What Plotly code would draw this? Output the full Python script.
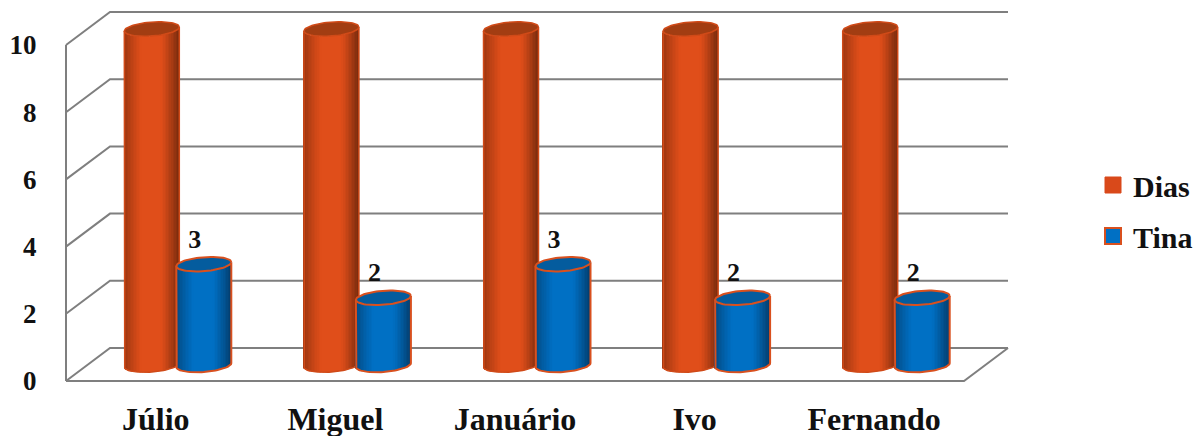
import numpy as np
import plotly.graph_objects as go

categories = ["Júlio", "Miguel", "Januário", "Ivo", "Fernando"]
dias = [10, 10, 10, 10, 10]
tina = [3, 2, 3, 2, 2]
y_ticks = [0, 2, 4, 6, 8, 10]

W, H = 1195, 436
PX_X = (964 - 66) / 5      # px per category
PX_Y = (381 - 45) / 10     # px per value unit
X0, Y0 = 66, 381           # px of data origin
FONT = "Liberation Serif"

xr = [-X0 / PX_X, (W - X0) / PX_X]
yr = [-(H - Y0) / PX_Y, Y0 / PX_Y]

DX_W, DY_W = 44 / PX_X, 33 / PX_Y        # wall depth
DX_C, DY_C = 22 / PX_X, 16 / PX_Y        # cylinder depth
RX, RY, TILT = 27.5 / PX_X, 7 / PX_Y, 2 / PX_Y
OFF = 26 / PX_X
N = 36


def mix(a, b, t):
    return tuple(a[i] + (b[i] - a[i]) * t for i in range(3))


def shade(u, left, mid, right):
    t = (u + 1) / 2
    if t < 0.32:
        c = mix(left, mid, (t / 0.32) ** 0.8)
    elif t < 0.68:
        c = mid
    else:
        c = mix(mid, right, ((t - 0.68) / 0.32) ** 1.2)
    return "rgb(%d,%d,%d)" % c


def cylinder(vals, side, left, mid, right, top, edge, xa, ya, lw):
    cx = [i + 0.5 + DX_C + side * OFF for i in range(len(vals))]
    edges = np.linspace(-1, 1, N + 1)
    us = (edges[:-1] + edges[1:]) / 2
    bx, by, bb, bc = [], [], [], []
    for c, v in zip(cx, vals):
        for u in us:
            bx.append(c + u * RX)
            by.append(v)
            bb.append(DY_C - RY * np.sqrt(1 - u * u) + TILT * u)
            bc.append(shade(u, left, mid, right))
    traces = [go.Bar(x=bx, y=by, base=bb, width=2.4 * RX / N, xaxis=xa, yaxis=ya,
                     marker=dict(color=bc, line=dict(width=0)), showlegend=False, hoverinfo="skip")]
    th = np.linspace(0, 2 * np.pi, 73)
    ex, ey, ox, oy = [], [], [], []
    low = np.linspace(np.pi, 2 * np.pi, 37)
    for c, v in zip(cx, vals):
        ex += list(c + RX * np.cos(th)) + [None]
        ey += list(v + DY_C + RY * np.sin(th) + TILT * np.cos(th)) + [None]
        ox += [c - RX] + list(c + RX * np.cos(low)) + [c + RX, None]
        oy += [v + DY_C - TILT] + list(DY_C + RY * np.sin(low) + TILT * np.cos(low)) + [v + DY_C + TILT, None]
    traces.append(go.Scatter(x=ox, y=oy, mode="lines", line=dict(color=edge, width=lw), xaxis=xa, yaxis=ya,
                             showlegend=False, hoverinfo="skip"))
    traces.append(go.Scatter(x=ex, y=ey, mode="lines", fill="toself", fillcolor=top,
                             line=dict(color=edge, width=lw), xaxis=xa, yaxis=ya,
                             showlegend=False, hoverinfo="skip"))
    return traces, cx


fig = go.Figure()

# walls and floor
gx, gy = [], []
for v in y_ticks:
    gx += [0, DX_W, 5 + DX_W, None]
    gy += [v, v + DY_W, v + DY_W, None]
gx += [0, 0, None, 0, 5, 5 + DX_W, None]
gy += [0, 10, None, 0, 0, DY_W, None]
fig.add_trace(go.Scatter(x=gx, y=gy, mode="lines", line=dict(color="#7f7f7f", width=2),
                         showlegend=False, hoverinfo="skip"))

tr, _ = cylinder(dias, -1, (150, 52, 16), (224, 78, 26), (122, 44, 14), "#A23D12", "#D04A18", "x2", "y2", 1.5)
fig.add_traces(tr)
tr, tina_x = cylinder(tina, 1, (4, 70, 124), (0, 112, 196), (4, 62, 110), "#045C9E", "#D9501E", "x3", "y3", 2)
fig.add_traces(tr)

fig.add_trace(go.Scatter(x=[c - 9 / PX_X for c in tina_x], y=[v + DY_C + 23 / PX_Y for v in tina],
                         mode="text", text=[str(v) for v in tina], textposition="middle center",
                         textfont=dict(family=FONT, size=26, color="#111111", weight="bold"),
                         xaxis="x3", yaxis="y3", showlegend=False, hoverinfo="skip"))

# legend entries
fig.add_trace(go.Scatter(x=[None], y=[None], mode="markers", name="Dias", legendgroup="a",
                         marker=dict(symbol="square", size=17, color="#D9491A", line=dict(color="#D9491A", width=1))))
fig.add_trace(go.Scatter(x=[None], y=[None], mode="markers", name="Tina", legendgroup="b",
                         marker=dict(symbol="square", size=16, color="#0070C4", line=dict(color="#D9501E", width=2))))

hidden = dict(range=xr, domain=[0, 1], visible=False, fixedrange=True, automargin=False)
hiddeny = dict(range=yr, domain=[0, 1], visible=False, fixedrange=True, automargin=False)
fig.update_layout(
    width=W, height=H, margin=dict(l=0, r=0, t=0, b=0, autoexpand=False), autosize=False,
    paper_bgcolor="white", plot_bgcolor="white", barmode="overlay",
    font=dict(family=FONT, color="#111111"),
    xaxis=dict(range=xr, domain=[0, 1], anchor="free", position=(H - Y0) / H, automargin=False,
               tickvals=[i + 0.5 for i in range(5)], ticktext=categories,
               ticks="outside", ticklen=10, tickcolor="rgba(0,0,0,0)", showgrid=False, zeroline=False,
               showline=False, tickfont=dict(family=FONT, size=32, weight="bold", color="#111111"),
               tickangle=0),
    yaxis=dict(range=yr, domain=[0, 1], anchor="free", position=X0 / W, automargin=False,
               tickvals=y_ticks, ticks="outside", ticklen=24, tickcolor="rgba(0,0,0,0)",
               showgrid=False, zeroline=False, showline=False,
               tickfont=dict(family=FONT, size=27, weight="bold", color="#111111")),
    xaxis2=dict(hidden, overlaying="x", anchor="y2"), yaxis2=dict(hiddeny, overlaying="y", anchor="x2"),
    xaxis3=dict(hidden, overlaying="x", anchor="y3"), yaxis3=dict(hiddeny, overlaying="y", anchor="x3"),
    legend=dict(x=1093 / W, xanchor="left", y=1 - 159 / H, yanchor="top", tracegroupgap=9,
                font=dict(family=FONT, size=30, weight="bold", color="#111111"),
                bgcolor="rgba(0,0,0,0)", itemwidth=30, itemclick=False),
    showlegend=True,
)
fig.write_html("out.html", config={"displayModeBar": False},
               post_script="document.body.style.margin='0';document.documentElement.style.overflow='hidden';")
